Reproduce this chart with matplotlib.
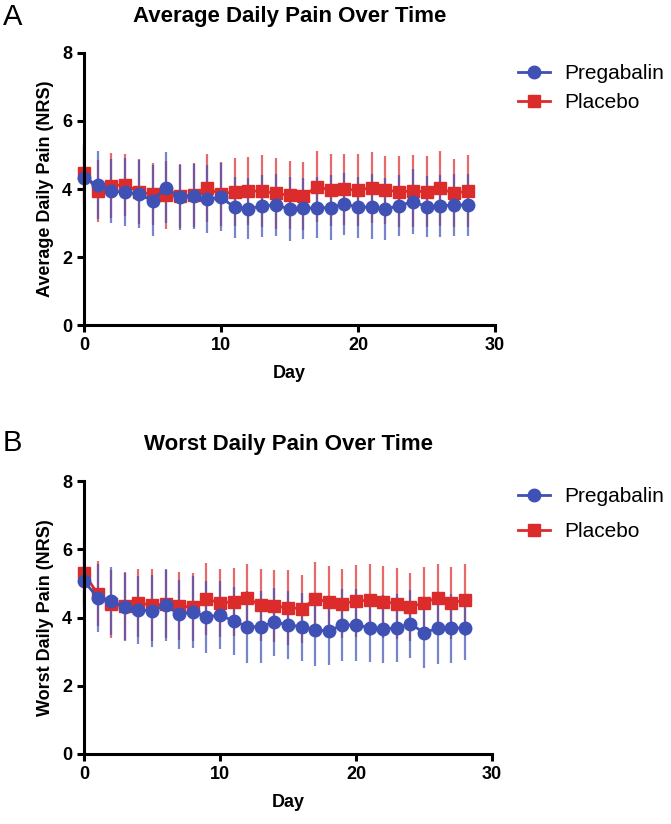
import numpy as np
from matplotlib import pyplot as plt

plt.rcParams["font.family"] = ["Liberation Sans", "DejaVu Sans"]

days = list(range(29))

# A: average daily pain
avg_preg = [4.32, 4.12, 3.94, 3.90, 3.85, 3.66, 4.04, 3.75, 3.78, 3.70, 3.75, 3.46, 3.42, 3.50, 3.53,
            3.41, 3.43, 3.45, 3.45, 3.56, 3.46, 3.48, 3.41, 3.51, 3.63, 3.48, 3.50, 3.53, 3.53]
avg_preg_sd = [0.95, 1.00, 0.95, 1.00, 1.00, 1.05, 1.05, 0.95, 0.95, 1.00, 1.00, 0.90, 0.90, 0.90, 0.90,
               0.95, 0.90, 0.90, 0.95, 0.90, 0.90, 0.95, 0.90, 0.90, 0.95, 0.90, 0.90, 0.90, 0.90]
avg_plac = [4.47, 3.94, 4.10, 4.12, 3.92, 3.85, 3.82, 3.79, 3.82, 4.02, 3.85, 3.92, 3.94, 3.94, 3.87,
            3.82, 3.79, 4.07, 3.97, 3.99, 3.97, 4.04, 3.97, 3.92, 3.94, 3.92, 4.02, 3.87, 3.94]
avg_plac_sd = [0.85, 0.90, 0.95, 0.90, 0.95, 0.90, 1.00, 0.95, 0.95, 1.00, 0.95, 1.00, 1.00, 1.05, 1.05,
               1.00, 1.00, 1.05, 1.05, 1.05, 1.05, 1.05, 1.00, 1.05, 1.05, 1.05, 1.10, 1.00, 1.05]

# B: worst daily pain
wst_preg = [5.07, 4.58, 4.49, 4.31, 4.23, 4.19, 4.36, 4.09, 4.17, 4.02, 4.07, 3.90, 3.73, 3.73, 3.87,
            3.78, 3.73, 3.63, 3.61, 3.78, 3.78, 3.70, 3.66, 3.70, 3.81, 3.56, 3.68, 3.68, 3.70]
wst_preg_sd = [0.85, 1.00, 1.00, 1.00, 1.00, 1.05, 1.05, 1.00, 1.05, 1.05, 1.00, 1.00, 1.05, 1.05, 1.00,
               1.00, 1.00, 1.05, 1.00, 1.05, 1.05, 1.00, 1.00, 1.00, 1.00, 1.05, 1.05, 1.00, 0.95]
wst_plac = [5.29, 4.70, 4.39, 4.33, 4.43, 4.36, 4.39, 4.33, 4.31, 4.54, 4.43, 4.46, 4.56, 4.36, 4.33,
            4.29, 4.26, 4.54, 4.46, 4.41, 4.48, 4.51, 4.46, 4.41, 4.31, 4.43, 4.58, 4.43, 4.51]
wst_plac_sd = [0.95, 0.95, 1.00, 1.00, 1.00, 1.05, 1.00, 1.00, 1.00, 1.05, 1.00, 1.00, 1.00, 1.05, 1.05,
               1.10, 1.00, 1.10, 1.05, 1.00, 1.05, 1.05, 1.05, 1.05, 1.00, 1.05, 1.00, 1.05, 1.05]

blue = "#3f51b5"
red = "#dc2b2b"

fig = plt.figure(figsize=(6.71, 8.24), dpi=100)

panels = [
    ([84 / 671, 1 - 325 / 824, 411 / 671, 272 / 824], "A", "Average Daily Pain Over Time",
     "Average Daily Pain (NRS)", avg_preg, avg_preg_sd, avg_plac, avg_plac_sd, 72, 0.5),
    ([84 / 671, 1 - 754 / 824, 408 / 671, 273 / 824], "B", "Worst Daily Pain Over Time",
     "Worst Daily Pain (NRS)", wst_preg, wst_preg_sd, wst_plac, wst_plac_sd, 498, 0.75),
]

for rect, letter, title, ylab, preg, preg_sd, plac, plac_sd, leg_y, spacing in panels:
    ax = fig.add_axes(rect)
    h_plac = ax.errorbar(days, plac, yerr=plac_sd, fmt='-s', color=red, ecolor=red, elinewidth=1.6,
                         capsize=0, markersize=8.5, lw=2)
    h_plac[2][0].set_alpha(0.7)
    h_preg = ax.errorbar(days, preg, yerr=preg_sd, fmt='-o', color=blue, ecolor=blue, elinewidth=1.6,
                         capsize=0, markersize=9, lw=2)
    h_preg[2][0].set_alpha(0.7)

    ax.set_xlim(0, 30)
    ax.set_ylim(0, 8)
    ax.set_xticks([0, 10, 20, 30])
    ax.set_yticks([0, 2, 4, 6, 8])
    for s in ["top", "right"]:
        ax.spines[s].set_visible(False)
    for s in ["left", "bottom"]:
        ax.spines[s].set_linewidth(2.2)
    ax.tick_params(width=2.2, length=5, labelsize=13)
    for t in ax.get_xticklabels() + ax.get_yticklabels():
        t.set_fontweight("bold")
    ax.set_xlabel("Day", fontsize=13, fontweight="bold", labelpad=8)
    ax.set_ylabel(ylab, fontsize=13, fontweight="bold", labelpad=6)
    ax.set_title(title, fontsize=16, fontweight="bold", pad=22)
    for art in ax.get_children():
        art.set_clip_on(False)

    fig.text(3 / 671, 1 - (leg_y - 55) / 824, letter, fontsize=21, va="center", ha="left")

    fig.legend([h_preg[0], h_plac[0]], ["Pregabalin", "Placebo"],
               loc="center left", bbox_to_anchor=(512 / 671, 1 - (leg_y + 16) / 824),
               frameon=False, fontsize=15, handlelength=1.5, labelspacing=spacing,
               handletextpad=0.7, borderaxespad=0, borderpad=0.3)

fig.savefig("out.png", dpi=100)
